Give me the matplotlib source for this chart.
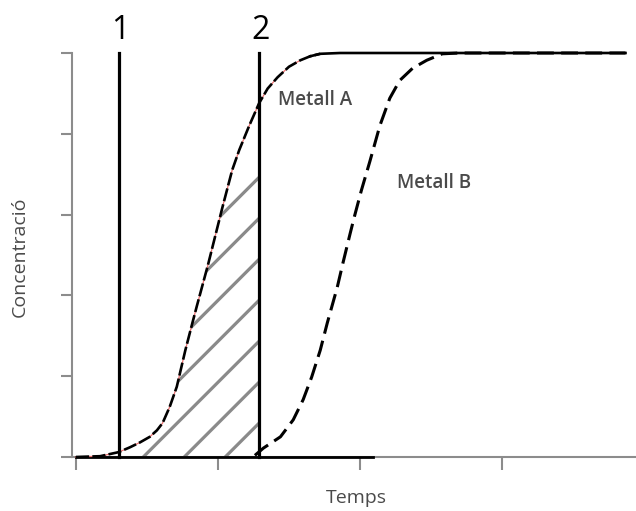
import numpy as np
import matplotlib
matplotlib.use("Agg")
import matplotlib.pyplot as plt

plt.rcParams['font.family'] = ['Open Sans', 'DejaVu Sans']

# Metall A (cumulative curve)
a_x = [0.0, 0.17, 0.30, 0.38, 0.45, 0.52, 0.57, 0.61, 0.66, 0.71, 0.77, 0.82,
       0.85, 0.93, 1.03, 1.10, 1.15, 1.22, 1.29, 1.35, 1.42, 1.50, 1.58, 1.65,
       1.72, 1.86, 3.87]
a_y = [0.0, 0.01, 0.06, 0.12, 0.18, 0.25, 0.33, 0.42, 0.62, 0.87, 1.32, 1.66,
       1.86, 2.38, 3.08, 3.55, 3.80, 4.10, 4.38, 4.56, 4.70, 4.83, 4.91, 4.96,
       4.99, 5.0, 5.0]

# Metall B
b_x = [1.26, 1.32, 1.44, 1.53, 1.60, 1.66, 1.72, 1.77, 1.84, 1.88, 1.93, 1.96,
       2.01, 2.07, 2.14, 2.21, 2.28, 2.37, 2.47, 2.58, 2.70, 3.87]
b_y = [0.02, 0.11, 0.25, 0.46, 0.71, 0.99, 1.32, 1.66, 2.10, 2.40, 2.76, 2.97,
       3.30, 3.66, 4.10, 4.44, 4.66, 4.81, 4.91, 4.99, 5.0, 5.0]

# baseline stretch where the curves sit on zero
base_x = [0.0, 2.09]
base_y = [0.0, 0.0]

# cut times 1 and 2
cuts = [0.30, 1.29]
cut_labels = ['1', '2']

x_ticks = [0, 1, 2, 3]
y_ticks = [0, 1, 2, 3, 4, 5]

fig = plt.figure(figsize=(6.36, 5.11), dpi=100)
ax = fig.add_axes([72 / 636, 54 / 511, 564 / 636, 404 / 511])
ax.set_xlim(-0.028, 3.944)
ax.set_ylim(0, 5)

axis_grey = '#8c8c8c'
for s in ['top', 'right']:
    ax.spines[s].set_visible(False)
for s in ['left', 'bottom']:
    ax.spines[s].set_color(axis_grey)
    ax.spines[s].set_linewidth(1.5)
ax.set_xticks(x_ticks)
ax.set_yticks(y_ticks)
ax.tick_params(axis='y', length=8, width=1.5, color=axis_grey, labelleft=False)
ax.tick_params(axis='x', length=9, width=1.5, color=axis_grey, labelbottom=False)

ax.plot(base_x, base_y, color='black', lw=2, clip_on=False, zorder=3)

# hatched area under metall A, up to cut 2
a_x_arr = np.array(a_x)
a_y_arr = np.array(a_y)
keep = a_x_arr <= cuts[1]
region = ax.fill_between(a_x_arr[keep], a_y_arr[keep], 0,
                         facecolor='none', edgecolor='none')
clip = region.get_paths()[0]
slope = (564 / 3.972) / (404 / 5)  # 45 degrees on screen
for k in range(7):
    y0 = 0.42 + 0.507 * k
    xs = np.array([cuts[1] - 3.5, cuts[1]])
    ys = y0 + slope * (xs - cuts[1])
    ln, = ax.plot(xs, ys, color='#8a8a8a', lw=2.3, solid_capstyle='butt', zorder=2)
    ln.set_clip_path(clip, transform=ax.transData)

# vertical cut lines
for cx, lab in zip(cuts, cut_labels):
    ax.plot([cx, cx], [0, 5], color='black', lw=2.3, clip_on=False, zorder=4)
    ax.text(cx + 0.01, 5.28, lab, ha='center', va='center', fontsize=23,
            color='black', clip_on=False)

# metall A: thin red line under black dashes, solid on the plateau
n_dash = 25
ax.plot(a_x[:n_dash], a_y[:n_dash], color='#e87070', lw=0.9, clip_on=False, zorder=5)
ax.plot(a_x[:n_dash], a_y[:n_dash], color='black', lw=1.9, dashes=(5, 1.2),
        clip_on=False, zorder=6)
ax.plot(a_x[n_dash - 2:], a_y[n_dash - 2:], color='black', lw=1.9,
        clip_on=False, zorder=6)

# metall B dashed
ax.plot(b_x, b_y, color='black', lw=2.2, dashes=(5.5, 2.4), clip_on=False, zorder=5)

ax.text(1.42, 4.42, 'Metall A', fontsize=13.5, color='#4a4a4a',
        ha='left', va='center', fontweight='semibold')
ax.text(2.26, 3.39, 'Metall B', fontsize=13.5, color='#4a4a4a',
        ha='left', va='center', fontweight='semibold')

fig.text(20 / 636, 1 - 257 / 511, 'Concentració', rotation=90, fontsize=14,
         color='#4a4a4a', ha='center', va='center')
fig.text(356 / 636, 1 - 498 / 511, 'Temps', fontsize=14, color='#4a4a4a',
         ha='center', va='center')

plt.savefig('out.png', dpi=100)
